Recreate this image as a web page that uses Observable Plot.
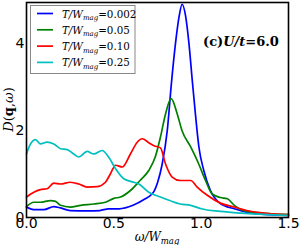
<!DOCTYPE html>
<html><head><meta charset="utf-8">
<script src="https://cdn.jsdelivr.net/npm/d3@7"></script>
<script src="https://cdn.jsdelivr.net/npm/@observablehq/plot@0.6"></script>
<style>body{margin:0;background:#fff} svg{display:block}</style>
</head><body><div id="chart"></div>
<script>
const seriesNames = ["0.002", "0.05", "0.10", "0.25"];
const seriesColors = ["#0000ff", "#008000", "#ff0000", "#00bfbf"];

const blueX = [0,0.04,0.1,0.156,0.195,0.25,0.35,0.42,0.47,0.53,0.61,0.68,0.71,0.73,0.75,0.777,0.806,0.83,0.853,0.875,0.891,0.91,0.93,0.949,0.967,0.987,1.015,1.053,1.11,1.19,1.26,1.36,1.5];
const blueY = [0.24,0.18,0.18,0.25,0.22,0.16,0.15,0.16,0.2,0.2,0.28,0.43,0.51,0.6,0.8,1.23,2.0,3.1,4.0,4.65,4.9,4.65,4.0,3.15,2.38,1.62,1.08,0.62,0.32,0.2,0.12,0.07,0.05];

const greenX = [0,0.042,0.08,0.137,0.166,0.195,0.25,0.31,0.385,0.452,0.5,0.538,0.595,0.65,0.70,0.738,0.767,0.796,0.828,0.863,0.89,0.94,0.986,1.025,1.063,1.11,1.15,1.19,1.24,1.32,1.42,1.5];
const greenY = [0.25,0.35,0.35,0.39,0.37,0.28,0.24,0.28,0.31,0.35,0.44,0.47,0.62,0.85,1.08,1.4,1.85,2.38,2.73,2.38,2.0,1.62,1.23,0.85,0.54,0.46,0.43,0.28,0.16,0.11,0.08,0.07];

const redX = [0,0.042,0.08,0.118,0.156,0.195,0.25,0.3,0.347,0.405,0.452,0.48,0.51,0.548,0.595,0.634,0.662,0.70,0.73,0.767,0.796,0.834,0.88,0.94,0.977,1.035,1.11,1.19,1.26,1.36,1.5];
const redY = [0.47,0.58,0.64,0.66,0.79,0.77,0.81,0.77,0.7,0.71,0.81,1.0,1.2,1.16,1.46,1.73,1.81,1.72,1.65,1.6,1.23,0.93,0.85,0.85,0.7,0.51,0.33,0.24,0.16,0.1,0.06];

const cyanX = [0,0.023,0.052,0.08,0.118,0.156,0.195,0.233,0.27,0.3,0.347,0.385,0.433,0.47,0.51,0.557,0.614,0.643,0.70,0.767,0.82,0.88,0.94,1.0,1.11,1.23,1.36,1.5];
const cyanY = [1.46,1.69,1.79,1.69,1.73,1.69,1.58,1.56,1.46,1.39,1.52,1.46,1.54,1.39,1.12,0.89,0.81,0.77,0.58,0.47,0.39,0.31,0.28,0.2,0.14,0.1,0.07,0.05];

const xTicks = [0, 0.5, 1.0, 1.5];
const yTicks = [0, 2, 4];
const annotation = {pre: "(c)", mid: "U/t", post: "=6.0"};

const allX = [blueX, greenX, redX, cyanX];
const allY = [blueY, greenY, redY, cyanY];
const rows = [];
seriesNames.forEach((s, i) => allX[i].forEach((x, j) => rows.push({s, x, y: allY[i][j]})));

const W = 300, H = 245, mL = 26, mR = 12, mT = 2, mB = 28;
const chart = Plot.plot({
  width: W, height: H, marginLeft: mL, marginRight: mR, marginTop: mT, marginBottom: mB,
  x: {domain: [0, 1.5]},
  y: {domain: [0, 4.94]},
  color: {domain: seriesNames, range: seriesColors},
  style: {fontFamily: "DejaVu Sans", fontSize: "14px", color: "black", background: "white"},
  marks: [
    Plot.line(rows, {x: "x", y: "y", z: "s", stroke: "s", strokeWidth: 1.7, curve: "monotone-x"}),
    Plot.axisX({ticks: xTicks, tickFormat: d => d.toFixed(1), tickSize: 0, tickPadding: 1, label: null, fontSize: 14}),
    Plot.axisY({ticks: yTicks, tickFormat: d => String(d), tickSize: 0, tickPadding: 2, label: null, fontSize: 14}),
    Plot.frame({stroke: "black", strokeWidth: 1.6})
  ]
});
document.getElementById("chart").appendChild(chart);

const svg = d3.select(chart);
// y label
const yl = svg.append("text")
  .attr("transform", `translate(13,${(mT + H - mB) / 2}) rotate(-90)`)
  .attr("text-anchor", "middle").attr("font-family", "DejaVu Serif").attr("font-size", 13);
yl.append("tspan").attr("font-style", "italic").text("D");
yl.append("tspan").text("(");
yl.append("tspan").attr("font-weight", "bold").text("q");
yl.append("tspan").text(",");
yl.append("tspan").attr("font-style", "italic").text("ω");
yl.append("tspan").text(")");
// x label
const xl = svg.append("text")
  .attr("x", 157).attr("y", 241)
  .attr("text-anchor", "middle").attr("font-family", "DejaVu Serif").attr("font-size", 12).attr("font-style", "italic");
xl.append("tspan").text("ω/W");
xl.append("tspan").attr("font-size", 8.5).attr("dy", 2.5).text("mag");

// legend
const lg = svg.append("g").attr("text-anchor", "start");
lg.append("rect").attr("x", 30.5).attr("y", 5.5).attr("width", 104.5).attr("height", 68)
  .attr("fill", "white").attr("stroke", "#888").attr("stroke-width", 1);
seriesNames.forEach((s, i) => {
  const y = 13.5 + i * 16.3;
  lg.append("line").attr("x1", 37).attr("x2", 53).attr("y1", y).attr("y2", y)
    .attr("stroke", seriesColors[i]).attr("stroke-width", 1.7);
  const t = lg.append("text").attr("x", 62).attr("y", y + 4).attr("text-anchor", "start")
    .attr("font-family", "DejaVu Serif").attr("font-size", 10.3);
  t.append("tspan").attr("font-style", "italic").text("T/W");
  t.append("tspan").attr("font-style", "italic").attr("font-size", 7).attr("dy", 2.5).text("mag");
  t.append("tspan").attr("dy", -2.5).text("=" + s);
});

// annotation
const an = svg.append("text").attr("x", 203).attr("y", 46).attr("text-anchor", "start")
  .attr("font-family", "DejaVu Serif").attr("font-size", 13).attr("font-weight", "bold");
an.append("tspan").text(annotation.pre);
an.append("tspan").attr("font-style", "italic").text(annotation.mid);
an.append("tspan").text(annotation.post);
</script>
</body></html>
